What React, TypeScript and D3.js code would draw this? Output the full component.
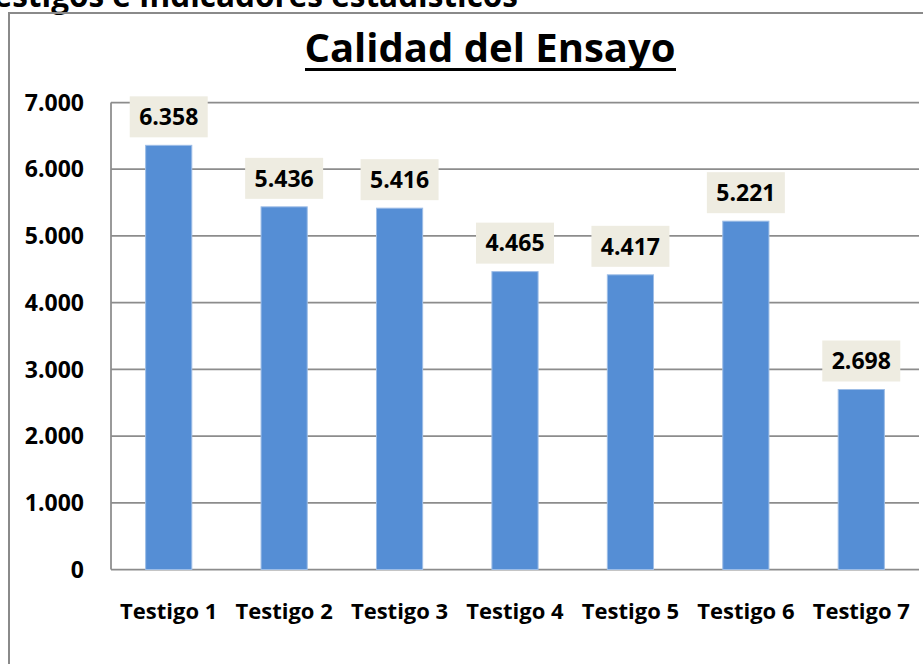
import React from "react";
import * as d3 from "d3";

const categories = ["Testigo 1", "Testigo 2", "Testigo 3", "Testigo 4", "Testigo 5", "Testigo 6", "Testigo 7"];
const values = [6358, 5436, 5416, 4465, 4417, 5221, 2698];
const yTicks = [0, 1000, 2000, 3000, 4000, 5000, 6000, 7000];
const title = "Calidad del Ensayo";
const headerText = "Testigos e Indicadores estadísticos";

const W = 923;
const H = 664;
const plot = { left: 111, right: 919, top: 102.5, bottom: 569.5 };
const FONT = "'Open Sans', 'Noto Sans', sans-serif";

const locale = d3.formatLocale({ decimal: ",", thousands: ".", grouping: [3], currency: ["", ""] });
const fmt = locale.format(",.0f");

export default function App() {
  const x = d3.scaleBand<string>().domain(categories).range([plot.left, plot.right]).paddingInner(0.6).paddingOuter(0.3);
  const y = d3.scaleLinear().domain([0, 7000]).range([plot.bottom, plot.top]);
  const boxW = 78;
  const boxH = 41;

  return (
    <svg width={W} height={H} style={{ position: "absolute", left: 0, top: 0, background: "#fff" }}>
      <rect x={0} y={0} width={W} height={H} fill="#fff" />
      {/* cut header text */}
      <text x={518} y={7} textAnchor="end" fontFamily={FONT} fontWeight={700} fontSize={31.5} fill="#000">
        {headerText}
      </text>
      {/* chart border */}
      <line x1={8} y1={13} x2={W} y2={13} stroke="#8a8a8a" strokeWidth={2} />
      <line x1={9} y1={12} x2={9} y2={H} stroke="#8a8a8a" strokeWidth={2} />

      {/* title */}
      <text x={490} y={62} textAnchor="middle" fontFamily={FONT} fontWeight={700} fontSize={40} fill="#000">
        {title}
      </text>
      <line x1={305} x2={676} y1={69.5} y2={69.5} stroke="#000" strokeWidth={3} />

      {/* gridlines */}
      {yTicks.map((t) => (
        <line key={"g" + t} x1={plot.left} x2={plot.right} y1={y(t)} y2={y(t)} stroke="#8c8c8c" strokeWidth={1.75} />
      ))}
      <line x1={plot.left} x2={plot.left} y1={plot.top} y2={plot.bottom} stroke="#8c8c8c" strokeWidth={1.75} />

      {/* y tick labels */}
      {yTicks.map((t) => (
        <text key={"t" + t} x={84} y={y(t)} dy="0.36em" textAnchor="end" fontFamily={FONT} fontWeight={700} fontSize={23} fill="#000">
          {fmt(t)}
        </text>
      ))}

      {/* bars */}
      {categories.map((c, i) => (
        <rect
          key={"b" + c}
          x={x(c)!}
          y={y(values[i])}
          width={x.bandwidth()}
          height={y(0) - y(values[i])}
          fill="#558ED5"
          stroke="#9dbde6"
          strokeWidth={1}
        />
      ))}

      {/* data labels */}
      {categories.map((c, i) => {
        const cx = x(c)! + x.bandwidth() / 2;
        const bottom = y(values[i]) - 8;
        return (
          <g key={"l" + c}>
            <rect x={cx - boxW / 2} y={bottom - boxH} width={boxW} height={boxH} fill="#EEECE1" />
            <text x={cx} y={bottom - boxH / 2} dy="0.36em" textAnchor="middle" fontFamily={FONT} fontWeight={700} fontSize={23} fill="#000">
              {fmt(values[i])}
            </text>
          </g>
        );
      })}

      {/* category labels */}
      {categories.map((c) => (
        <text key={"c" + c} x={x(c)! + x.bandwidth() / 2} y={619} textAnchor="middle" fontFamily={FONT} fontWeight={700} fontSize={22} fill="#000">
          {c}
        </text>
      ))}
    </svg>
  );
}
